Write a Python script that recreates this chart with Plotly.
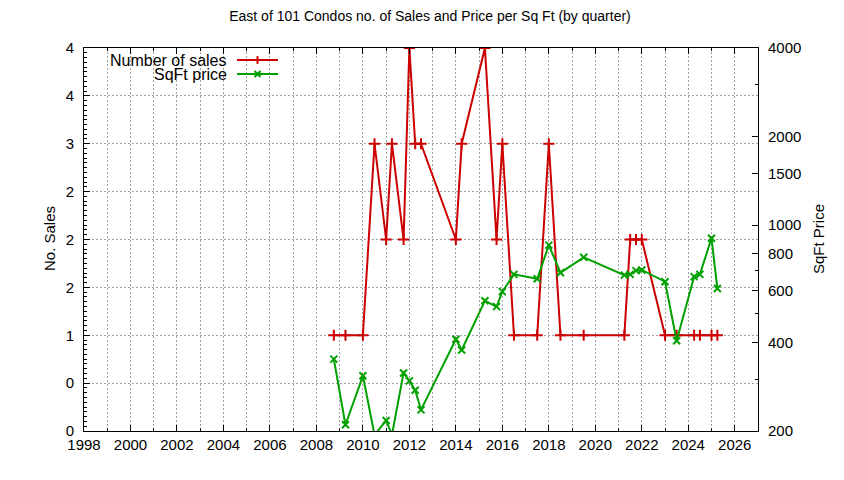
import plotly.graph_objects as go

# quarterly data
quarters = [2008.75, 2009.25, 2010.0, 2010.5, 2011.0, 2011.25, 2011.75, 2012.0,
            2012.25, 2012.5, 2014.0, 2014.25, 2015.25, 2015.75, 2016.0, 2016.5,
            2017.5, 2018.0, 2018.5, 2019.5, 2021.25, 2021.5, 2021.75, 2022.0,
            2023.0, 2023.5, 2024.25, 2024.5, 2025.0, 2025.25]
num_sales = [1, 1, 1, 3, 2, 3, 2, 4, 3, 3, 2, 3, 4, 2, 3, 1,
             1, 3, 1, 1, 1, 2, 2, 2, 1, 1, 1, 1, 1, 1]
sqft_price = [351, 210, 308, 194, 217, 194, 315, 296, 275, 236, 410, 377, 554, 529, 595, 681,
              658, 856, 690, 778, 677, 681, 701, 705, 643, 405, 669, 681, 903, 610]

sales_ticks = [0, 0.5, 1, 1.5, 2, 2.5, 3, 3.5, 4]
price_ticks = [200, 400, 600, 800, 1000, 1500, 2000, 4000]
price_minor = [300, 500, 700, 3000]
year_ticks = list(range(1998, 2027, 2))

RED = "#cc0000"
GREEN = "#00a000"
GRID = "#a0a0a0"
FONT = "Liberation Sans, Arial, sans-serif"

# plot box in page pixels (the page body adds an 8px offset)
PX_L, PX_R, PX_T, PX_B = 84, 758, 48, 431
W = PX_R - PX_L
H = PX_B - PX_T


def px(x):
    return (x - PX_L) / W


def py(y):
    return (PX_B - y) / H


fig = go.Figure()
fig.add_trace(go.Scatter(
    x=quarters, y=num_sales, mode="lines+markers", name="Number of sales",
    line=dict(color=RED, width=2),
    marker=dict(symbol="cross-thin", size=8, line=dict(color=RED, width=2)),
    yaxis="y",
))
fig.add_trace(go.Scatter(
    x=quarters, y=sqft_price, mode="lines+markers", name="SqFt price",
    line=dict(color=GREEN, width=2),
    marker=dict(symbol="x-thin", size=7, line=dict(color=GREEN, width=2)),
    yaxis="y2",
))

# gnuplot-style key: text on the left, sample on the right, opaque box
rows = [("Number of sales", RED, py(60), "+"),
        ("SqFt price", GREEN, py(74), "x")]
shapes = [dict(type="rect", xref="paper", yref="paper", x0=0.0, x1=px(290),
               y0=py(82), y1=1.0, fillcolor="white", line=dict(width=0),
               layer="between")]
annotations = []
kx0, kx1 = px(237), px(278)
kxm = (kx0 + kx1) / 2
dx, dy = 3 / W, 3 / H
for label, col, ky, sym in rows:
    annotations.append(dict(text=label, x=px(229), y=ky, xref="paper", yref="paper",
                            xanchor="right", yanchor="middle", showarrow=False,
                            font=dict(size=16, color="black", family=FONT)))
    shapes.append(dict(type="line", xref="paper", yref="paper", x0=kx0, x1=kx1,
                       y0=ky, y1=ky, line=dict(color=col, width=2)))
    if sym == "+":
        shapes.append(dict(type="line", xref="paper", yref="paper", x0=kxm, x1=kxm,
                           y0=ky - dy * 1.3, y1=ky + dy * 1.3, line=dict(color=col, width=2)))
    else:
        shapes.append(dict(type="line", xref="paper", yref="paper", x0=kxm - dx, x1=kxm + dx,
                           y0=ky - dy, y1=ky + dy, line=dict(color=col, width=2)))
        shapes.append(dict(type="line", xref="paper", yref="paper", x0=kxm - dx, x1=kxm + dx,
                           y0=ky + dy, y1=ky - dy, line=dict(color=col, width=2)))

annotations.append(dict(text="No. Sales", x=px(49), y=py(239), xref="paper", yref="paper",
                        textangle=-90, showarrow=False, xanchor="center", yanchor="middle",
                        font=dict(size=15, color="black", family=FONT)))
annotations.append(dict(text="SqFt Price", x=px(818), y=py(239), xref="paper", yref="paper",
                        textangle=-90, showarrow=False, xanchor="center", yanchor="middle",
                        font=dict(size=15, color="black", family=FONT)))

fig.update_layout(
    width=844, height=480,
    margin=dict(l=PX_L - 8, r=844 - (PX_R - 8), t=PX_T - 8, b=480 - (PX_B - 8)),
    paper_bgcolor="white", plot_bgcolor="white",
    font=dict(family=FONT, size=14, color="black"),
    showlegend=False,
    title=dict(text="East of 101 Condos no. of Sales and Price per Sq Ft (by quarter)",
               x=0.5, xanchor="center", y=1 - 8 / 480, yanchor="middle",
               font=dict(size=14, color="black", family=FONT)),
    xaxis=dict(
        range=[1998, 2027], tickvals=year_ticks, ticks="inside", ticklen=6,
        tickcolor="black", showline=True, linecolor="black", linewidth=1, mirror="ticks",
        showgrid=True, gridcolor=GRID, griddash="2px,2px", gridwidth=1, zeroline=False,
        tickfont=dict(size=15),
        minor=dict(dtick=1, tick0=1998, ticks="inside", ticklen=3, tickcolor="black",
                   showgrid=True, gridcolor=GRID, griddash="2px,2px", gridwidth=1),
    ),
    yaxis=dict(
        range=[0, 4], tickvals=sales_ticks, ticktext=[f"{v:.0f}" for v in sales_ticks],
        ticks="inside", ticklen=6, tickcolor="black", showline=True, linecolor="black",
        linewidth=1, showgrid=True, gridcolor=GRID, griddash="2px,2px", gridwidth=1,
        zeroline=False, ticklabelstandoff=6, tickfont=dict(size=15),
        minor=dict(dtick=0.05, tick0=0, ticks="inside", ticklen=3, tickcolor="black",
                   showgrid=False),
    ),
    yaxis2=dict(
        type="log", range=[2.30103, 3.60206], overlaying="y", side="right",
        tickvals=price_ticks, ticktext=[str(v) for v in price_ticks],
        ticks="inside", ticklen=6, tickcolor="black", showline=True, linecolor="black",
        linewidth=1, showgrid=False, zeroline=False, ticklabelstandoff=6,
        tickfont=dict(size=15),
        minor=dict(tickvals=price_minor, ticks="inside", ticklen=3, tickcolor="black",
                   showgrid=False),
    ),
    shapes=shapes,
    annotations=annotations,
)

fig.write_html("out.html")
